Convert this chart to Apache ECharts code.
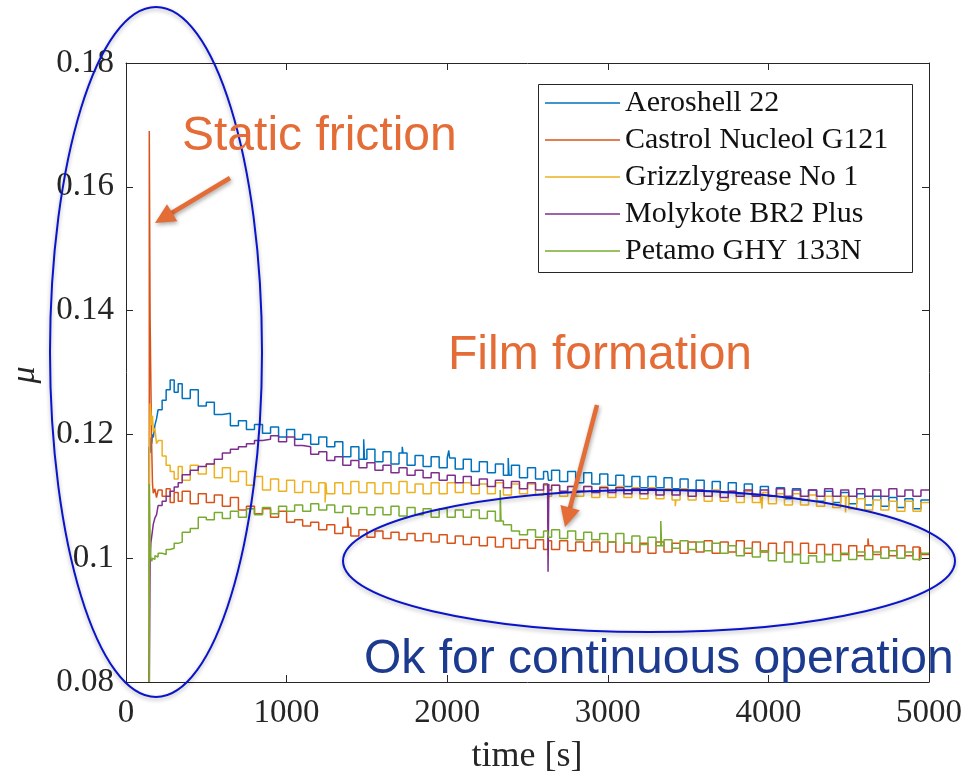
<!DOCTYPE html>
<html><head><meta charset="utf-8">
<script src="https://cdn.jsdelivr.net/npm/echarts@6/dist/echarts.min.js"></script>
<style>html,body{margin:0;padding:0;background:#fff}#c{width:965px;height:781px}</style>
</head><body><div id="c"></div>
<script>
const time = [
 145,150,155,160,165,170,180,190,200,225,
 250,275,300,325,350,400,450,500,550,600,
 650,700,750,800,850,900,950,1000,1050,1100,
 1150,1200,1250,1300,1350,1400,1450,1500,1550,1600,
 1650,1700,1750,1800,1850,1900,1950,2000,2050,2100,
 2150,2200,2250,2300,2350,2400,2450,2500,2550,2600,
 2625,2630,2650,2700,2750,2800,2850,2900,2950,3000,
 3050,3100,3150,3200,3250,3300,3350,3400,3450,3500,
 3550,3600,3650,3700,3750,3800,3850,3900,3950,4000,
 4050,4100,4150,4200,4250,4300,4350,4400,4450,4500,
 4550,4600,4650,4700,4750,4800,4850,4900,4950,5000
];
const aeroshell22 = [
 0.0800,0.1180,0.1170,0.1195,0.1185,0.1200,0.1195,0.1215,0.1225,0.1240,
 0.1255,0.1272,0.1288,0.1268,0.1282,0.1258,0.1272,0.1246,0.1252,0.1232,
 0.1234,0.1214,0.1222,0.1208,0.1216,0.1202,0.1212,0.1196,0.1208,0.1192,
 0.1200,0.1184,0.1196,0.1180,0.1188,0.1164,0.1180,0.1160,0.1176,0.1156,
 0.1172,0.1152,0.1170,0.1150,0.1166,0.1148,0.1164,0.1146,0.1162,0.1144,
 0.1160,0.1140,0.1156,0.1138,0.1152,0.1134,0.1150,0.1130,0.1146,0.1128,
 0.1140,0.1140,0.1126,0.1142,0.1124,0.1140,0.1122,0.1138,0.1120,0.1136,
 0.1118,0.1134,0.1116,0.1132,0.1114,0.1132,0.1114,0.1130,0.1112,0.1128,
 0.1110,0.1126,0.1108,0.1124,0.1106,0.1122,0.1104,0.1120,0.1102,0.1116,
 0.1100,0.1114,0.1096,0.1112,0.1094,0.1110,0.1092,0.1108,0.1090,0.1106,
 0.1088,0.1104,0.1086,0.1100,0.1084,0.1098,0.1082,0.1096,0.1080,0.1094
];
const castrolNucleol = [
 0.0800,0.1690,0.1390,0.1280,0.1180,0.1120,0.1105,0.1112,0.1098,0.1110,
 0.1100,0.1112,0.1090,0.1106,0.1092,0.1108,0.1088,0.1104,0.1090,0.1102,
 0.1084,0.1098,0.1078,0.1084,0.1072,0.1080,0.1066,0.1076,0.1058,0.1062,
 0.1052,0.1058,0.1046,0.1054,0.1040,0.1050,0.1036,0.1046,0.1034,0.1044,
 0.1032,0.1042,0.1030,0.1040,0.1028,0.1040,0.1026,0.1038,0.1024,0.1036,
 0.1022,0.1034,0.1020,0.1034,0.1018,0.1032,0.1016,0.1030,0.1016,0.1030,
 0.1014,0.1014,0.1028,0.1014,0.1028,0.1012,0.1026,0.1012,0.1026,0.1010,
 0.1026,0.1010,0.1024,0.1010,0.1024,0.1008,0.1026,0.1010,0.1024,0.1008,
 0.1026,0.1010,0.1028,0.1008,0.1026,0.1010,0.1028,0.1008,0.1026,0.1010,
 0.1024,0.1008,0.1026,0.1006,0.1024,0.1008,0.1022,0.1006,0.1022,0.1006,
 0.1020,0.1004,0.1020,0.1006,0.1018,0.1004,0.1020,0.1004,0.1018,0.1006
];
const grizzlygrease = [
 0.0800,0.1100,0.1250,0.1235,0.1215,0.1230,0.1205,0.1210,0.1185,0.1190,
 0.1165,0.1150,0.1140,0.1128,0.1148,0.1126,0.1150,0.1136,0.1152,0.1130,
 0.1146,0.1124,0.1140,0.1118,0.1132,0.1110,0.1128,0.1108,0.1126,0.1106,
 0.1124,0.1106,0.1122,0.1104,0.1122,0.1104,0.1124,0.1106,0.1122,0.1104,
 0.1122,0.1104,0.1124,0.1106,0.1120,0.1104,0.1122,0.1104,0.1122,0.1106,
 0.1122,0.1104,0.1120,0.1104,0.1122,0.1102,0.1120,0.1104,0.1120,0.1102,
 0.1118,0.1118,0.1100,0.1118,0.1100,0.1116,0.1100,0.1116,0.1098,0.1116,
 0.1098,0.1116,0.1098,0.1114,0.1096,0.1114,0.1096,0.1112,0.1094,0.1112,
 0.1094,0.1110,0.1092,0.1110,0.1092,0.1108,0.1090,0.1108,0.1090,0.1106,
 0.1088,0.1104,0.1086,0.1104,0.1086,0.1102,0.1084,0.1100,0.1082,0.1100,
 0.1080,0.1096,0.1078,0.1094,0.1078,0.1092,0.1076,0.1092,0.1076,0.1090
];
const molykote = [
 0.0800,0.0800,0.1000,0.1025,0.1035,0.1045,0.1055,0.1065,0.1070,0.1085,
 0.1092,0.1100,0.1108,0.1115,0.1122,0.1135,0.1142,0.1148,0.1152,0.1160,
 0.1170,0.1176,0.1180,0.1185,0.1190,0.1192,0.1198,0.1188,0.1196,0.1182,
 0.1180,0.1168,0.1172,0.1158,0.1164,0.1150,0.1158,0.1146,0.1154,0.1142,
 0.1150,0.1138,0.1146,0.1134,0.1142,0.1130,0.1138,0.1126,0.1134,0.1122,
 0.1132,0.1118,0.1128,0.1116,0.1126,0.1114,0.1124,0.1112,0.1122,0.1110,
 0.1120,0.1120,0.1110,0.1118,0.1108,0.1116,0.1108,0.1116,0.1106,0.1114,
 0.1106,0.1114,0.1104,0.1112,0.1104,0.1112,0.1102,0.1110,0.1102,0.1110,
 0.1100,0.1110,0.1100,0.1108,0.1098,0.1108,0.1100,0.1110,0.1100,0.1110,
 0.1100,0.1112,0.1100,0.1110,0.1100,0.1110,0.1100,0.1112,0.1100,0.1110,
 0.1100,0.1112,0.1100,0.1110,0.1100,0.1112,0.1100,0.1110,0.1100,0.1110
];
const petamo = [
 0.0800,0.1120,0.1030,0.1000,0.0995,0.1000,0.0998,0.1004,0.1002,0.1008,
 0.1006,0.1014,0.1016,0.1024,0.1026,0.1042,0.1048,0.1066,0.1062,0.1074,
 0.1064,0.1076,0.1066,0.1080,0.1070,0.1082,0.1072,0.1084,0.1076,0.1086,
 0.1076,0.1088,0.1078,0.1086,0.1074,0.1084,0.1072,0.1082,0.1070,0.1082,
 0.1070,0.1084,0.1068,0.1082,0.1070,0.1080,0.1066,0.1080,0.1066,0.1078,
 0.1066,0.1078,0.1064,0.1076,0.1060,0.1054,0.1044,0.1038,0.1046,0.1034,
 0.1044,0.1044,0.1034,0.1046,0.1032,0.1044,0.1030,0.1042,0.1030,0.1040,
 0.1026,0.1040,0.1024,0.1036,0.1022,0.1034,0.1020,0.1030,0.1016,0.1028,
 0.1014,0.1026,0.1012,0.1024,0.1008,0.1020,0.1004,0.1016,0.1002,0.1012,
 0.0996,0.1008,0.0994,0.1006,0.0992,0.1004,0.0994,0.1006,0.0996,0.1008,
 0.0998,0.1010,0.0998,0.1010,0.1000,0.1012,0.1000,0.1010,0.0998,0.1008
];
// short single-sample excursions: [time, value]
const aeroshellSpikes = [[1480,0.1192],[1720,0.1180],[2010,0.1174],[2380,0.1162],[3250,0.1146],[3600,0.1138]];
const castrolSpikes = [[1380,0.1066],[2050,0.1046],[3600,0.1036],[3900,0.1038],[4150,0.1036],[4620,0.1032],[4940,0.0996]];
const grizzlySpikes = [[1050,0.1144],[1240,0.1090],[1700,0.1092],[2200,0.1090],[3420,0.1084],[3960,0.1080],[4480,0.1074]];
const molykoteSpikes = [[2628,0.0978],[4300,0.1128]];
const petamoSpikes = [[1700,0.1116],[2330,0.1110],[2400,0.1120],[3200,0.1060],[3330,0.1060],[3900,0.0986]];

const seriesNames = ['Aeroshell 22','Castrol Nucleol G121','Grizzlygrease No 1','Molykote BR2 Plus','Petamo GHY 133N'];
const seriesValues = [aeroshell22, castrolNucleol, grizzlygrease, molykote, petamo];
const seriesSpikes = [aeroshellSpikes, castrolSpikes, grizzlySpikes, molykoteSpikes, petamoSpikes];
const seriesColors = ['#0072BD','#D95319','#EDB120','#7E2F8E','#77AC30'];
const xTickLabels = ['0','1000','2000','3000','4000','5000'];
const yTickLabels = ['0.08','0.1','0.12','0.14','0.16','0.18'];
const annotationTexts = ['Static friction','Film formation','Ok for continuous operation'];

function buildData(vals, spikes){
  const out = [];
  for (let k=0;k<time.length;k++){
    if (k>0){
      spikes.forEach(s=>{
        if (s[0]>time[k-1] && s[0]<time[k]){
          out.push([s[0], vals[k]]);
          out.push([s[0]+5, s[1]]);
        }
      });
    }
    out.push([time[k], vals[k]]);
  }
  return out;
}

const chart = echarts.init(document.getElementById('c'), null, {renderer:'canvas'});
const serif = '"Liberation Serif", "DejaVu Serif", serif';
const axisCol = '#262626';
const orange = '#E46C36';
const ellCol = '#0A14C8';

function arrow(x1,y1,x2,y2){
  const dx=x2-x1, dy=y2-y1, L=Math.hypot(dx,dy), ux=dx/L, uy=dy/L;
  const hl=20, hw=10;
  const bx=x2-ux*hl, by=y2-uy*hl;
  return [
    {type:'line', shape:{x1:x1,y1:y1,x2:bx+ux*2,y2:by+uy*2}, style:{stroke:orange,lineWidth:4.5,shadowBlur:4,shadowColor:'rgba(0,0,0,0.35)',shadowOffsetX:1,shadowOffsetY:2}, z:100},
    {type:'polygon', shape:{points:[[x2,y2],[bx-uy*hw,by+ux*hw],[bx+uy*hw,by-ux*hw]]}, style:{fill:orange,shadowBlur:4,shadowColor:'rgba(0,0,0,0.35)',shadowOffsetX:1,shadowOffsetY:2}, z:100}
  ];
}

const series = seriesNames.map((n,i)=>({
  name:n, type:'line', step:'start', showSymbol:false, symbol:'none',
  data: buildData(seriesValues[i], seriesSpikes[i]),
  lineStyle:{color:seriesColors[i], width:1.5},
  itemStyle:{color:seriesColors[i]},
  animation:false, clip:true
}));

const option = {
  animation:false,
  backgroundColor:'#fff',
  grid:{left:126, right:34, top:63, bottom:99},
  legend:{
    orient:'vertical', left:538, top:84, z:6,
    data:seriesNames,
    icon:'rect', itemWidth:75, itemHeight:1.5, itemGap:7,
    padding:[4,12,9,7],
    borderWidth:0,
    textStyle:{fontFamily:serif, fontSize:30, color:'#111', lineHeight:26}
  },
  xAxis:[
    {type:'value', min:0, max:5000, interval:1000, position:'bottom',
     axisLine:{show:true, lineStyle:{color:axisCol}},
     axisTick:{show:true, inside:true, length:7, lineStyle:{color:axisCol}},
     splitLine:{show:false},
     axisLabel:{margin:15, fontFamily:serif, fontSize:33, color:'#262626',
       formatter:(v)=>xTickLabels[Math.round(v/1000)]}},
    {type:'value', min:0, max:5000, interval:1000, position:'top',
     axisLine:{show:true, onZero:false, lineStyle:{color:axisCol}},
     axisTick:{show:true, inside:true, length:7, lineStyle:{color:axisCol}},
     splitLine:{show:false}, axisLabel:{show:false}}
  ],
  yAxis:[
    {type:'value', min:0.08, max:0.18, interval:0.02, position:'left',
     axisLine:{show:true, onZero:false, lineStyle:{color:axisCol}},
     axisTick:{show:true, inside:true, length:7, lineStyle:{color:axisCol}},
     splitLine:{show:false},
     axisLabel:{margin:12, fontFamily:serif, fontSize:33, color:'#262626',
       formatter:(v)=>yTickLabels[Math.round((v-0.08)/0.02)]}},
    {type:'value', min:0.08, max:0.18, interval:0.02, position:'right',
     axisLine:{show:true, onZero:false, lineStyle:{color:axisCol}},
     axisTick:{show:true, inside:true, length:7, lineStyle:{color:axisCol}},
     splitLine:{show:false}, axisLabel:{show:false}}
  ],
  series: series,
  graphic:[
    {type:'rect', shape:{x:538.5, y:84.5, width:374, height:188}, style:{fill:'#fff', stroke:axisCol, lineWidth:1}, z:5},
    {type:'text', x:527, y:757, style:{text:'time [s]', font:'36px '+serif, fill:'#262626', align:'center', verticalAlign:'middle'}, z:50},
    {type:'text', x:25, y:375, rotation:Math.PI/2, style:{text:'μ', font:'italic 34px '+serif, fill:'#262626', align:'center', verticalAlign:'middle'}, z:50},
    {type:'ellipse', shape:{cx:156, cy:352, rx:106, ry:345}, style:{fill:'none', stroke:ellCol, lineWidth:2, shadowBlur:4, shadowColor:'rgba(0,0,0,0.3)', shadowOffsetY:2}, z:90},
    {type:'ellipse', shape:{cx:649, cy:561, rx:306, ry:71}, style:{fill:'none', stroke:ellCol, lineWidth:2, shadowBlur:4, shadowColor:'rgba(0,0,0,0.3)', shadowOffsetY:2}, z:90},
    {type:'text', x:182, y:137, style:{text:annotationTexts[0], font:'48px "Liberation Sans", Arial, sans-serif', fill:orange, verticalAlign:'middle'}, z:110},
    {type:'text', x:448, y:356, style:{text:annotationTexts[1], font:'48px "Liberation Sans", Arial, sans-serif', fill:orange, verticalAlign:'middle'}, z:110},
    {type:'text', x:364, y:660, style:{text:annotationTexts[2], font:'48px "Liberation Sans", Arial, sans-serif', fill:'#1C3A8E', verticalAlign:'middle'}, z:110},
    ...arrow(230,178,155,223),
    ...arrow(597,405,565,527)
  ]
};
chart.setOption(option);
</script></body></html>
